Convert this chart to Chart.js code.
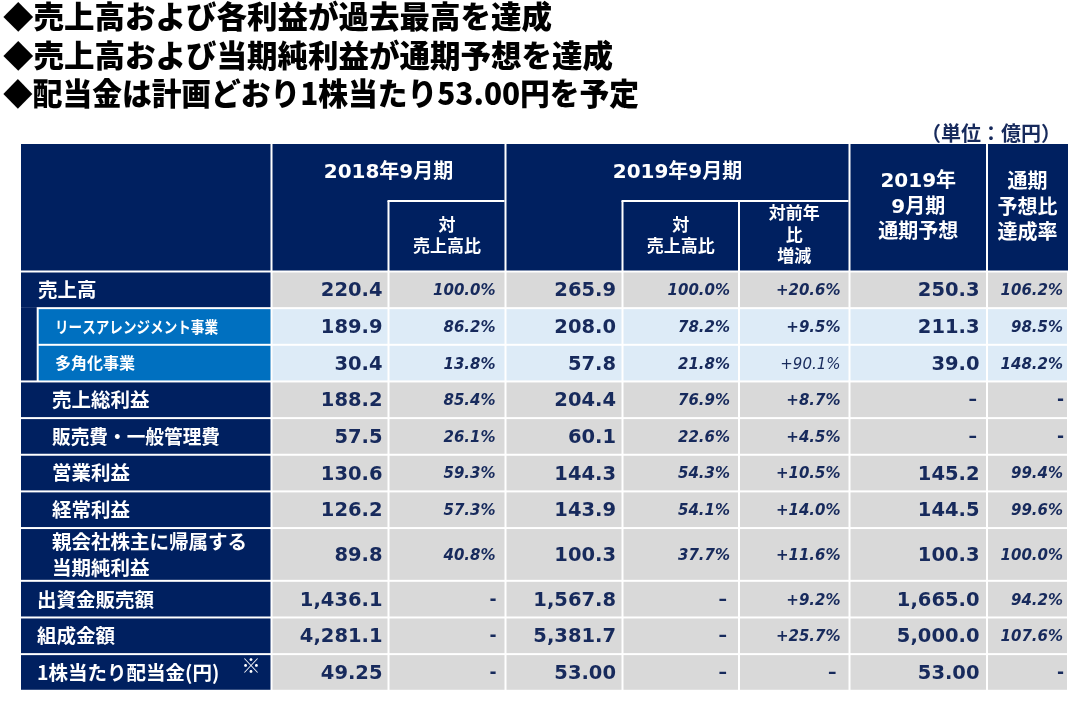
<!DOCTYPE html>
<html><head><meta charset="utf-8">
<script src="https://cdn.jsdelivr.net/npm/chart.js@4.4.1/dist/chart.umd.min.js"></script>
<style>html,body{margin:0;padding:0;background:#fff}#wrap{width:1080px;height:701px;position:relative}</style>
</head><body><div id="wrap"><canvas id="c"></canvas></div>
<script>
// ---------- data ----------
const titleLines = ['◆売上高および各利益が過去最高を達成', '◆売上高および当期純利益が通期予想を達成', '◆配当金は計画どおり1株当たり53.00円を予定'];
const unitLabel = '（単位：億円）';
const groupHeaders = ['2018年9月期', '2019年9月期'];
const ratioHeader = ['対', '売上高比'];
const yoyHeader = ['対前年', '比', '増減'];
const forecastHeader = ['2019年', '9月期', '通期予想'];
const achieveHeader = ['通期', '予想比', '達成率'];
const rowLabels = ['売上高', 'リースアレンジメント事業', '多角化事業', '売上総利益', '販売費・一般管理費', '営業利益', '経常利益', '親会社株主に帰属する\n当期純利益', '出資金販売額', '組成金額', '1株当たり配当金(円)'];
const fy2018 = [220.4, 189.9, 30.4, 188.2, 57.5, 130.6, 126.2, 89.8, 1436.1, 4281.1, 49.25];
const ratio2018 = [100.0, 86.2, 13.8, 85.4, 26.1, 59.3, 57.3, 40.8, null, null, null];
const fy2019 = [265.9, 208.0, 57.8, 204.4, 60.1, 144.3, 143.9, 100.3, 1567.8, 5381.7, 53.00];
const ratio2019 = [100.0, 78.2, 21.8, 76.9, 22.6, 54.3, 54.1, 37.7, null, null, null];
const yoy2019 = [20.6, 9.5, 90.1, 8.7, 4.5, 10.5, 14.0, 11.6, 9.2, 25.7, null];
const forecast2019 = [250.3, 211.3, 39.0, null, null, 145.2, 144.5, 100.3, 1665.0, 5000.0, 53.00];
const achieveRate = [106.2, 98.5, 148.2, null, null, 99.4, 99.6, 100.0, 94.2, 107.6, null];
const valueDecimals = [1, 1, 1, 1, 1, 1, 1, 1, 1, 1, 2];
const footnoteMark = '※';

// ---------- layout / style ----------
const L = {
  colEdges: [21, 271.5, 388.5, 505.5, 622.5, 739, 849.5, 987, 1068],
  tableTop: 144, headerSplit: 201, headerBottom: 271.5,
  rowH: 36.65, rowUnits: [1, 1, 1, 1, 1, 1, 1, 1.44, 1, 1, 1],
  rowStyle: ['main', 'sub', 'sub', 'indent', 'indent', 'indent', 'indent', 'indent', 'main', 'main', 'main'],
  labelMaxW: [0, 163, 0, 0, 168, 0, 0, 0, 0, 0, 0],
  subX: 37.7,
  labelX: { main: 38, sub: 55, indent: 52, bottom: 37 },
  colKind: [null, 'val', 'pct', 'val', 'pct', 'pct', 'val', 'pct'],
  pad: [0, 6, 10, 6.5, 9, 9, 7.5, 5],
  dashPad: [0, 8, 9, 8, 12, 13, 10, 4],
  navy: '#002060', blue: '#0070C0', gray: '#D9D9D9', light: '#DDEBF7', ink: '#172A5C',
  cjk: '"Noto Sans CJK JP", sans-serif',
  mix: '"DejaVu Sans", "Noto Sans CJK JP", sans-serif'
};

const tablePlugin = {
  id: 'tablePlugin',
  afterDraw(chart) {
    const ctx = chart.ctx;
    const X = v => chart.scales.x.getPixelForValue(v);
    const Y = v => chart.scales.y.getPixelForValue(v);
    const rect = (x0, y0, x1, y1, color) => { ctx.fillStyle = color; ctx.fillRect(X(x0), Y(y0), X(x1) - X(x0), Y(y1) - Y(y0)); };
    const text = (s, x, y, font, color, align, maxW) => {
      ctx.font = font; ctx.fillStyle = color; ctx.textAlign = align || 'left'; ctx.textBaseline = 'middle';
      if (maxW) ctx.fillText(s, X(x), Y(y), maxW); else ctx.fillText(s, X(x), Y(y));
    };
    const C = L.colEdges;
    ctx.save();
    // titles
    titleLines.forEach((t, i) => text(t, 3, [16, 55, 93][i], '900 30.5px ' + L.cjk, '#000', 'left', [553, 611, 636][i]));
    text(unitLabel, 1061, 133, 'bold 20px ' + L.cjk, L.ink, 'right');

    // header block
    rect(C[0], L.tableTop, C[8], L.headerBottom - 1, L.navy);
    [1, 3, 6, 7].forEach(i => rect(C[i] - 1, L.tableTop, C[i] + 1, L.headerBottom, '#fff'));
    [2, 4, 5].forEach(i => rect(C[i] - 1, L.headerSplit, C[i] + 1, L.headerBottom, '#fff'));
    rect(C[2] - 1, L.headerSplit - 1, C[3] - 1, L.headerSplit + 1, '#fff');
    rect(C[4] - 1, L.headerSplit - 1, C[6] - 1, L.headerSplit + 1, '#fff');
    const HF = 'bold 20px ' + L.mix;
    text(groupHeaders[0], (C[1] + C[3]) / 2, 173, HF, '#fff', 'center');
    text(groupHeaders[1], (C[3] + C[6]) / 2, 173, HF, '#fff', 'center');
    const SF = 'bold 17px ' + L.mix;
    [2, 4].forEach(i => { text(ratioHeader[0], (C[i] + C[i + 1]) / 2, 226.5, SF, '#fff', 'center'); text(ratioHeader[1], (C[i] + C[i + 1]) / 2, 248, SF, '#fff', 'center'); });
    yoyHeader.forEach((s, k) => text(s, (C[5] + C[6]) / 2, [215, 237, 258][k], SF, '#fff', 'center'));
    const BF = 'bold 20px ' + L.mix;
    forecastHeader.forEach((s, k) => text(s, (C[6] + C[7]) / 2, [182, 207.5, 233][k], BF, '#fff', 'center'));
    achieveHeader.forEach((s, k) => text(s, (C[7] + C[8]) / 2, [183, 208.5, 234][k], BF, '#fff', 'center'));

    // body rows
    const edges = [L.headerBottom];
    L.rowUnits.forEach(u => edges.push(edges[edges.length - 1] + u * L.rowH));
    rect(C[0], edges[1] - 1, L.subX - 1, edges[3] - 1, L.navy);
    const cols = [null, fy2018, ratio2018, fy2019, ratio2019, yoy2019, forecast2019, achieveRate];
    const LF = 'bold 19.5px ' + L.cjk;
    rowLabels.forEach((lab, r) => {
      const y0 = edges[r], y1 = edges[r + 1], yc = (y0 + y1) / 2;
      const st = L.rowStyle[r];
      const mw = L.labelMaxW[r] || undefined;
      if (st === 'sub') {
        rect(L.subX + 1, y0 + 1, C[1] - 1, y1 - 1, L.blue);
        text(lab, L.labelX.sub, yc, 'bold 16px ' + L.cjk, '#fff', 'left', mw);
      } else {
        rect(C[0], y0 + 1, C[1] - 1, y1 - 1, L.navy);
        const lx = st === 'indent' ? L.labelX.indent : (r === 0 ? L.labelX.main : L.labelX.bottom);
        const parts = lab.split('\n');
        if (parts.length === 2) { text(parts[0], lx, yc - 13, LF, '#fff', 'left'); text(parts[1], lx, yc + 13, LF, '#fff', 'left'); }
        else text(lab, lx, yc, LF, '#fff', 'left', mw);
        if (r === rowLabels.length - 1) text(footnoteMark, 251, y0 + 12, 'bold 19px ' + L.cjk, '#fff', 'center');
      }
      const bg = st === 'sub' ? L.light : L.gray;
      for (let c = 1; c <= 7; c++) {
        rect(C[c] + 1, y0 + 1, C[c + 1] - 1, y1 - 1, bg);
        const v = cols[c][r];
        const xr = C[c + 1] - L.pad[c];
        if (v === null) {
          const d = (c === 2 || c === 7) ? '-' : '–';
          text(d, C[c + 1] - L.dashPad[c], yc + 1, 'bold 17px ' + L.mix, L.ink, 'right'); continue;
        }
        if (L.colKind[c] === 'val') {
          const s = v.toLocaleString('en-US', { minimumFractionDigits: valueDecimals[r], maximumFractionDigits: valueDecimals[r] });
          text(s, xr, yc + 1.5, 'bold 19.5px ' + L.mix, L.ink, 'right');
        } else {
          const s = (c === 5 ? '+' : '') + v.toFixed(1) + '%';
          const f = (c === 5 && r === 2) ? 'italic 15px ' + L.mix : 'italic bold 15px ' + L.mix;
          text(s, xr, yc + 1.5, f, L.ink, 'right');
        }
      }
    });
    ctx.restore();
  }
};

new Chart(document.getElementById('c'), {
  type: 'scatter',
  data: { datasets: [] },
  options: {
    responsive: true, maintainAspectRatio: false, animation: false, events: [],
    layout: { padding: 0 },
    plugins: { legend: { display: false }, tooltip: { enabled: false }, title: { display: false } },
    scales: {
      x: { type: 'linear', min: 0, max: 1080, display: false },
      y: { type: 'linear', min: 0, max: 701, reverse: true, display: false }
    }
  },
  plugins: [tablePlugin]
});
</script></body></html>
